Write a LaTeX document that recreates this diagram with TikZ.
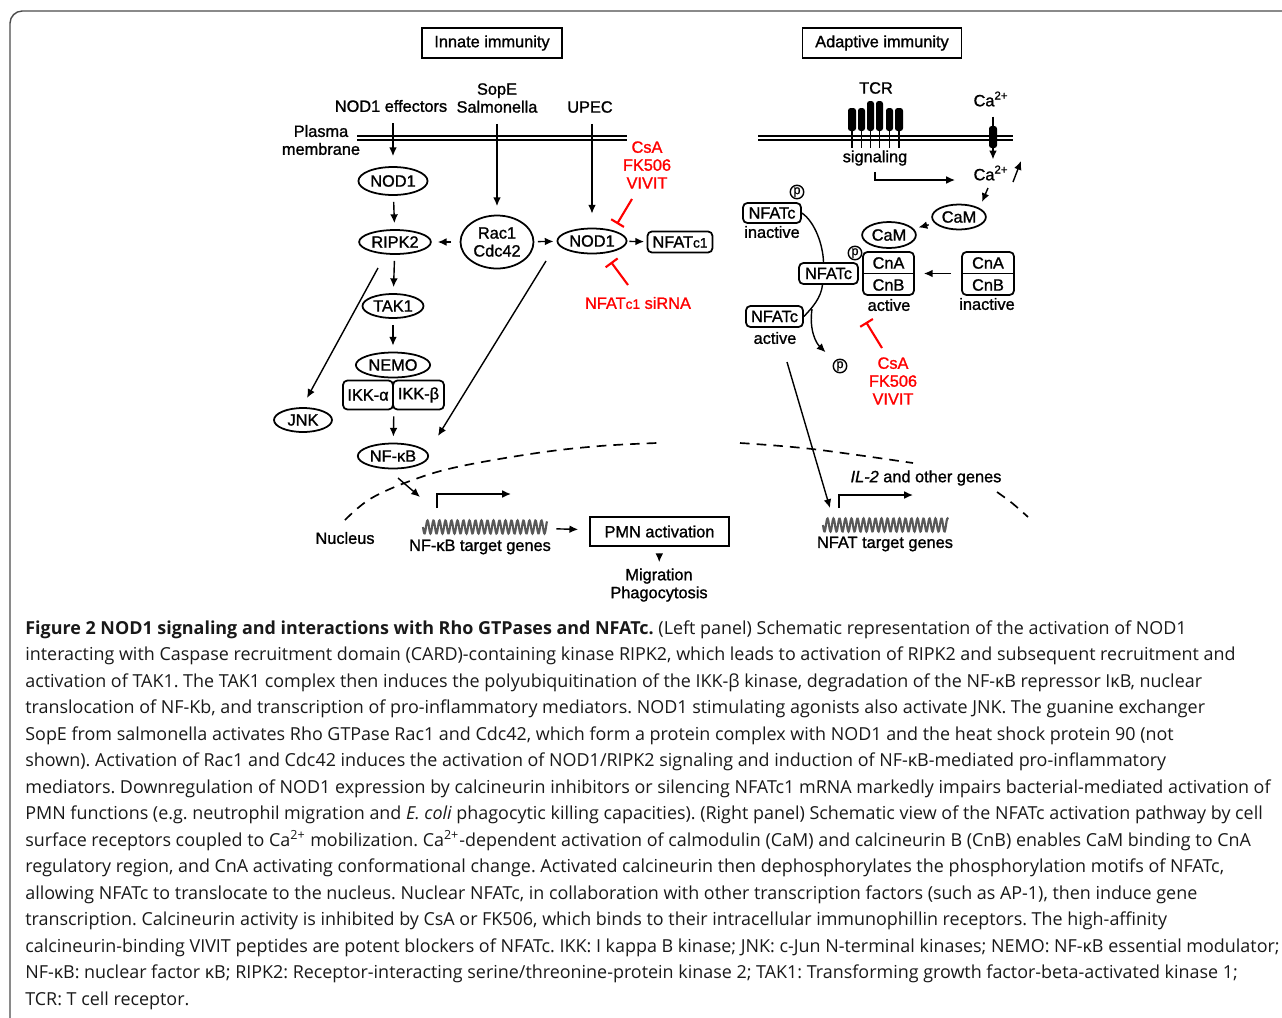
\documentclass[tikz,border=0pt]{standalone}
\usepackage{fontspec}
\setmainfont{Liberation Sans}[FakeBold=1.2]
\newfontfamily\capfont{Open Sans}
\usetikzlibrary{positioning}
\usetikzlibrary{shapes.geometric}
\usetikzlibrary{arrows.meta}

\newcommand{\cone}{{\fontsize{7.8}{8}\selectfont c1}}

\tikzset{
  prot/.style={ellipse, draw, line width=1pt, inner sep=1pt, minimum width=1.16cm, minimum height=0.48cm},
  cbox/.style={draw, rounded corners=2.5pt, line width=1pt, inner sep=1.5pt},
  hbox/.style={draw, line width=0.9pt, inner sep=0pt},
  act/.style={->, line width=0.8pt, shorten <=0.12cm, shorten >=0.12cm},
  inhib/.style={-{Bar[width=8.5pt]}, red, line width=1.2pt},
  redtxt/.style={text=red, align=center},
  phos/.style={circle, draw, inner sep=0pt, minimum size=0.27cm, line width=0.8pt, font=\fontsize{7.2}{7}\selectfont},
  gene/.style={line width=1.2pt, black!65},
  memb/.style={line width=0.8pt},
  nuc/.style={line width=0.95pt, dash pattern=on 5.5pt off 4pt}
}

\begin{document}
\begin{tikzpicture}[x=0.02cm, y=-0.02cm, font=\fontsize{9.3}{10.2}\selectfont, >={Latex[length=5pt,width=4.4pt]}]
\useasboundingbox (0,0) rectangle (1282,1018);
\clip (0,0) rectangle (1282,1018);
\fill[white] (0,0) rectangle (1282,1018);

% outer frame
\draw[line width=0.8pt, black!70, rounded corners=7pt] (10,1040) -- (10,11) -- (1300,11);

% panel titles
\node[hbox, minimum width=2.8cm, minimum height=0.6cm] (innate) at (492,43) {Innate immunity};
\node[hbox, minimum width=3.18cm, minimum height=0.6cm] (adaptive) at (882,43) {Adaptive immunity};

%%% innate immunity
\node (eff) at (391,106) {NOD1 effectors};
\node[align=center] (sope) at (497,98) {SopE\\Salmonella};
\node (upec) at (590,107) {UPEC};
\node[align=center] (plasma) at (321,140) {Plasma\\membrane};
\draw[memb] (357,136) -- (627,136) (357,140) -- (627,140);

\node[prot, minimum width=1.2cm, minimum height=0.56cm] (nod1a) at (393,181) {NOD1};
\node[prot] (ripk2) at (395,242) {RIPK2};
\node[prot, minimum width=1.46cm, minimum height=1.06cm, align=center] (rac) at (497,242) {Rac1\\Cdc42};
\node[prot, minimum height=0.5cm] (nod1b) at (592,241) {NOD1};
\node[cbox, minimum width=1.3cm, minimum height=0.42cm] (nfatc1) at (680,242) {NFAT\cone};
\node[prot] (tak1) at (393,306) {TAK1};
\node[prot, minimum width=1.2cm, minimum height=0.5cm] (nemo) at (393,365) {NEMO};
\node[cbox, minimum width=1.0cm, minimum height=0.58cm] (ikka) at (368,395) {IKK-α};
\node[cbox, minimum width=1.02cm, minimum height=0.58cm] (ikkb) at (418.5,395) {IKK-β};
\node[prot, minimum height=0.5cm] (nfkb) at (393,456) {NF-κB};
\node[prot] (jnk) at (303,420) {JNK};

\draw[act, shorten <=0.1cm, shorten >=0.2cm] (eff.south -| nod1a) -- (nod1a);
\draw[act, shorten <=0.1cm, shorten >=0.17cm] (sope.south -| rac) -- (rac);
\draw[act, shorten <=0.1cm, shorten >=0.28cm] (upec.south -| nod1b) -- (nod1b);
\draw[act] (nod1a) -- (ripk2);
\draw[act] (ripk2) -- (tak1);
\draw[act] (tak1) -- (nemo);
\draw[act] (ikka.south east) -- (nfkb);
\draw[act, shorten <=0.17cm] (rac) -- (ripk2);
\draw[<->, act, shorten <=0.07cm, shorten >=0.06cm] (rac) -- (nod1b);
\draw[<->, act, shorten <=0.04cm, shorten >=0.05cm] (nod1b) -- (nfatc1);
\draw[act, shorten <=0pt, shorten >=0pt] ([shift={(-17,26)}]ripk2.center) -- ([shift={(4,-22)}]jnk.center);
\coordinate (cplx) at (546,261);
\draw[act, shorten <=0pt, shorten >=0pt] (cplx) -- ([shift={(45,-20)}]nfkb.center);

% inhibitors
\node[redtxt] (inhL) at (647,165) {CsA\\FK506\\VIVIT};
\draw[inhib] ([shift={(-15,34)}]inhL.center) -- ++(-15,25);
\node[text=red] (sirna) at (638,303) {NFAT\cone{} siRNA};
\draw[inhib] ([shift={(-10,-18)}]sirna.center) -- ++(-17,-23);

% nucleus
\draw[nuc] plot[smooth, tension=0.6] coordinates {(345,520) (370,499) (410,481) (457,467) (537,453) (600,446) (657,443)};
\draw[nuc] plot[smooth, tension=0.6] coordinates {(740,443) (812,449) (913,463)};
\draw[nuc] plot[smooth, tension=0.6] coordinates {(997,492) (1012,503) (1028,517)};
\node (nucl) at (345,538) {Nucleus};

\coordinate (tss1) at (437,508);
\draw[act, shorten <=0pt, shorten >=0pt] ([shift={(5,22)}]nfkb.center) -- ([shift={(-17,-11)}]tss1);
\draw[act, shorten <=0pt, shorten >=0pt] (tss1) |- ++(74,-14);
\node[minimum width=2.48cm, minimum height=0.3cm, inner sep=0pt] (gene1) at (485,527) {};
\draw[gene] plot[domain=0:124, samples=300] ({423+\x},{527+6.5*sin(\x*60)});
\node (g1lab) at (480,547) {NF-κB target genes};
\node[hbox, minimum width=2.78cm, minimum height=0.58cm] (pmn) at (659.5,531.5) {PMN activation};
\draw[act, shorten <=0.18cm, shorten >=0.22cm] (gene1) -- (pmn);
\node[align=center] (migr) at (659,585) {Migration\\Phagocytosis};
\draw[act, shorten <=0.14cm, shorten >=0pt] (pmn) -- (migr);

%%% adaptive immunity
\node (tcr) at (876,88) {TCR};
\draw[memb] (758,136) -- (1013,136) (758,140) -- (1013,140);
\draw[line width=0.7pt] (852,130) -- (852,148) (861.5,130) -- (861.5,148) (870.5,130) -- (870.5,148)
  (879.5,130) -- (879.5,148) (889.5,130) -- (889.5,148) (899,130) -- (899,148);
\fill[rounded corners=1.5pt] (848,108) rectangle (856,131) (858,108) rectangle (865,131)
  (867,101) rectangle (874,131) (876,101) rectangle (883,131) (886,108) rectangle (893,131)
  (895,108) rectangle (903,131);
\node (sig) at (875,158) {signaling};
\coordinate (sigend) at (955,180);
\draw[act, shorten <=0pt, shorten >=0pt] (sig.south) |- (sigend);

\node[fill, rounded corners=1.5pt, inner sep=0pt, minimum width=0.16cm, minimum height=0.44cm] (chan) at (993,137) {};
\node (ca1) at (991,99) {Ca\textsuperscript{2+}};
\node (ca2) at (991,173) {Ca\textsuperscript{2+}};
\draw[act, shorten <=0.08cm, shorten >=0pt] (ca1.south -| chan) -- (ca2.north -| chan);
\draw[act, shorten <=0pt, shorten >=0pt] ([shift={(22,9)}]ca2.center) -- ([shift={(30,-12)}]ca2.center);

\node[prot, minimum width=0.84cm, minimum height=0.5cm] (cam1) at (959,217) {CaM};
\node[prot, minimum width=0.84cm, minimum height=0.52cm] (cam2) at (889,235) {CaM};
\draw[act, shorten <=0pt, shorten >=0pt] ([shift={(-3,15)}]ca2.center) -- ([shift={(-9,29)}]ca2.center);
\draw[act, shorten <=0.12cm, shorten >=0.1cm] (cam1) -- (cam2);

\node[cbox, minimum width=1.02cm, minimum height=0.86cm] (cnact) at (888.5,273.5) {};
\draw[line width=1pt] (cnact.west) -- (cnact.east);
\node (cnaA) at (888.5,263) {CnA};
\node (cnbA) at (888.5,285) {CnB};
\node (actlab) at (889,305) {active};
\node[cbox, minimum width=1.04cm, minimum height=0.86cm] (cninact) at (988,273.5) {};
\draw[line width=1pt] (cninact.west) -- (cninact.east);
\node (cnaI) at (988,263) {CnA};
\node (cnbI) at (988,285) {CnB};
\node (inactlab) at (987,304) {inactive};
\draw[act, shorten <=0.2cm, shorten >=0.18cm] (cninact) -- (cnact);

\node[cbox, minimum width=1.16cm, minimum height=0.4cm] (nfi) at (772,213) {NFATc};
\node (nfilab) at (772,232) {inactive};
\node[phos] (p1) at (797,192) {p};
\node[cbox, minimum width=1.18cm, minimum height=0.42cm] (nfm) at (828.5,273.5) {NFATc};
\node[phos] (p2) at (855,253) {p};
\node[cbox, minimum width=1.14cm, minimum height=0.42cm] (nfa) at (774.5,316.5) {NFATc};
\node (nfalab) at (775,338) {active};
\node[phos] (p3) at (840,366) {p};
\draw[line width=0.8pt] (nfi.east) .. controls (815,222) and (823,245) .. ([xshift=-0.1cm]nfm.north);
\draw[line width=0.8pt] ([xshift=-0.12cm]nfm.south) .. controls (821,298) and (812,308) .. (nfa.east);
\coordinate (junc) at (812,309);
\draw[act, shorten <=0pt, shorten >=0.25cm] (junc) .. controls (809,330) and (816,343) .. (p3);

\node[redtxt] (inhR) at (893,381) {CsA\\FK506\\VIVIT};
\draw[inhib] ([shift={(-11,-33)}]inhR.center) -- ++(-16,-26);

\coordinate (tss2) at (839,508);
\draw[act, shorten <=0pt, shorten >=0pt] ([shift={(12,24)}]nfalab.center) -- ([xshift=-0.18cm]tss2);
\draw[act, shorten <=0pt, shorten >=0pt] (tss2) |- ++(74,-13);
\node (il2) at (926,478) {{\itshape IL-2} and other genes};
\node[minimum width=2.5cm, minimum height=0.3cm, inner sep=0pt] (gene2) at (885.5,525) {};
\draw[gene] plot[domain=0:125, samples=300] ({823+\x},{525+6.5*sin(\x*60)});
\node (g2lab) at (885,544) {NFAT target genes};

%%% caption
\node[anchor=north west, align=left, inner sep=0pt, text=black!90,
  font=\capfont\frenchspacing\fontsize{10.2}{15.1}\selectfont] (cap) at (25,620) {%
{\bfseries Figure 2 NOD1 signaling and interactions with Rho GTPases and NFATc.} (Left panel) Schematic representation of the activation of NOD1\\
interacting with Caspase recruitment domain (CARD)-containing kinase RIPK2, which leads to activation of RIPK2 and subsequent recruitment and\\
activation of TAK1. The TAK1 complex then induces the polyubiquitination of the IKK-β kinase, degradation of the NF-κB repressor IκB, nuclear\\
translocation of NF-Kb, and transcription of pro-inflammatory mediators. NOD1 stimulating agonists also activate JNK. The guanine exchanger\\
SopE from salmonella activates Rho GTPase Rac1 and Cdc42, which form a protein complex with NOD1 and the heat shock protein 90 (not\\
shown). Activation of Rac1 and Cdc42 induces the activation of NOD1/RIPK2 signaling and induction of NF-κB-mediated pro-inflammatory\\
mediators. Downregulation of NOD1 expression by calcineurin inhibitors or silencing NFATc1 mRNA markedly impairs bacterial-mediated activation of\\
PMN functions (e.g. neutrophil migration and {\itshape E. coli} phagocytic killing capacities). (Right panel) Schematic view of the NFATc activation pathway by cell\\
surface receptors coupled to Ca\textsuperscript{2+} mobilization. Ca\textsuperscript{2+}-dependent activation of calmodulin (CaM) and calcineurin B (CnB) enables CaM binding to CnA\\
regulatory region, and CnA activating conformational change. Activated calcineurin then dephosphorylates the phosphorylation motifs of NFATc,\\
allowing NFATc to translocate to the nucleus. Nuclear NFATc, in collaboration with other transcription factors (such as AP-1), then induce gene\\
transcription. Calcineurin activity is inhibited by CsA or FK506, which binds to their intracellular immunophillin receptors. The high-affinity\\
calcineurin-binding VIVIT peptides are potent blockers of NFATc. IKK: I kappa B kinase; JNK: c-Jun N-terminal kinases; NEMO: NF-κB essential modulator;\\
NF-κB: nuclear factor κB; RIPK2: Receptor-interacting serine/threonine-protein kinase 2; TAK1: Transforming growth factor-beta-activated kinase 1;\\
TCR: T cell receptor.};
\end{tikzpicture}
\end{document}
